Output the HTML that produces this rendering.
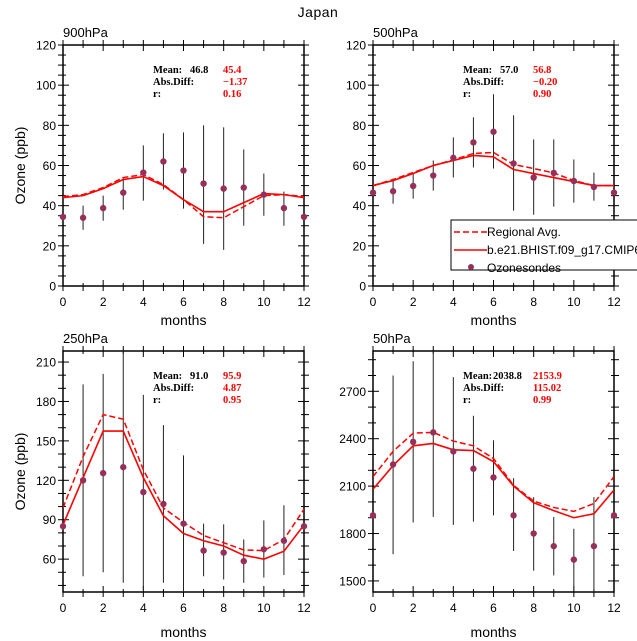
<!DOCTYPE html>
<html><head><meta charset="utf-8"><style>
body{margin:0;background:#fff}
svg{display:block;font-family:"Liberation Sans",sans-serif}
</style></head><body>
<svg id="fig" width="637" height="641" viewBox="0 0 637 641" xmlns="http://www.w3.org/2000/svg">
<text x="318" y="17" font-size="14" text-anchor="middle" letter-spacing="0.5">Japan</text>
</svg>
<script>
const months=[0,1,2,3,4,5,6,7,8,9,10,11,12];
// 900hPa
const obs900=[34.4,34,38.8,46.5,56.5,62,57.5,51,48.5,49,45.5,38.8,34.4];
const lo900=[null,28,32.5,38,42.5,48,38.5,21,18,30,35,30,null];
const hi900=[null,40,45,54,70,76,76.5,80,79,68,56,47,null];
const mod900=[44,45,48.5,53,54.5,50,43,37,37,41.5,46,45.5,44];
const reg900=[44.5,45.5,49,54,55.5,50.5,43,34.5,34,39.5,45,45.5,44.5];
// 500hPa
const obs500=[46.5,47.2,49.8,55,63.8,71.5,76.8,61,54,56.3,52.3,49.3,46.5];
const lo500=[null,41,43.5,47.5,54,59,58.5,37.5,35.5,39.5,41.5,42.5,null];
const hi500=[null,53.5,56,62.5,74,84,95.5,85,73,73,63,56.5,null];
const mod500=[50,52.5,56,60,62.5,65,64.3,58,56,54,52,50,50];
const reg500=[50,53,56.5,60,62.8,66,66.5,60.5,58.5,56.3,52.5,50,50];
// 250hPa
const obs250=[85,120,125.5,130,111,102,87,66.5,65,58.5,67.5,74,85];
const lo250=[null,47,50,42,37,42,35,47,44.5,42,46,48,null];
const hi250=[null,193,201,230,185,162,139,87,86.5,75,89.5,101,null];
const mod250=[86,122,157.5,157.5,122,93,79.5,74,70,63,60,66,86];
const reg250=[99,138,170,166.5,128,99,88,78,72.5,67,66.5,75,98];
// 50hPa
const obs50=[1915,2237,2380,2440,2320,2210,2155,1915,1800,1720,1635,1720,1915];
const lo50=[null,1670,1870,1905,1855,1875,1915,1690,1565,1535,1440,1400,null];
const hi50=[null,2800,2890,2990,2790,2545,2390,2150,2030,1905,1830,2030,null];
const mod50=[2080,2230,2355,2370,2330,2325,2255,2100,1995,1945,1900,1925,2075];
const reg50=[2160,2320,2435,2440,2385,2355,2275,2105,2005,1965,1940,1990,2160];

const xTicks=[0,2,4,6,8,10,12];
const NS="http://www.w3.org/2000/svg";
const svg=document.getElementById('fig');
function el(tag,attrs,parent){const e=document.createElementNS(NS,tag);for(const k in attrs)e.setAttribute(k,attrs[k]);(parent||svg).appendChild(e);return e;}

const panels=[
 {id:'900hpa',label:'900hPa',x0:63,x1:304,yTop:45,yBot:286,vTop:120,vBot:0,ticks:[0,20,40,60,80,100,120],minor:5,obs:obs900,lo:lo900,hi:hi900,mod:mod900,reg:reg900,stats:['46.8','45.4','\u22121.37','0.16'],ylab:true,xlabY:325},
 {id:'500hpa',label:'500hPa',x0:373,x1:614,yTop:45,yBot:286,vTop:120,vBot:0,ticks:[0,20,40,60,80,100,120],minor:5,obs:obs500,lo:lo500,hi:hi500,mod:mod500,reg:reg500,stats:['57.0','56.8','\u22120.20','0.90'],ylab:false,xlabY:325},
 {id:'250hpa',label:'250hPa',x0:63,x1:304,yTop:351,yBot:592,vTop:218.4,vBot:35,ticks:[60,90,120,150,180,210],minor:10,obs:obs250,lo:lo250,hi:hi250,mod:mod250,reg:reg250,stats:['91.0','95.9','4.87','0.95'],ylab:true,xlabY:637},
 {id:'50hpa',label:'50hPa',x0:373,x1:614,yTop:351,yBot:592,vTop:2955,vBot:1430,ticks:[1500,1800,2100,2400,2700],minor:100,obs:obs50,lo:lo50,hi:hi50,mod:mod50,reg:reg50,stats:['2038.8','2153.9','115.02','0.99'],ylab:false,xlabY:637}
];

panels.forEach(p=>{
 const g=el('g',{});
 
 
 const clipId='clip-'+p.id;
 const cp=el('clipPath',{id:clipId},g);
 el('rect',{x:p.x0,y:p.yTop,width:p.x1-p.x0,height:p.yBot-p.yTop},cp);
 const X=v=>p.x0+(v-0)/12*(p.x1-p.x0);
 const Y=v=>p.yBot-(v-p.vBot)/(p.vTop-p.vBot)*(p.yBot-p.yTop);
 const fr=el('rect',{x:p.x0,y:p.yTop,width:p.x1-p.x0,height:p.yBot-p.yTop,fill:'none',stroke:'#000','stroke-width':1.5},g);
 
 
 for(let m=0;m<=12;m++){
  const x=X(m),L=(m%2==0)?6:3;
  el('line',{x1:x,x2:x,y1:p.yBot,y2:p.yBot-L,stroke:'#000'},g);
  el('line',{x1:x,x2:x,y1:p.yTop,y2:p.yTop+L,stroke:'#000'},g);
  el('line',{x1:x,x2:x,y1:p.yBot,y2:p.yBot+5,stroke:'#000'},g);
  el('line',{x1:x,x2:x,y1:p.yTop,y2:p.yTop-5,stroke:'#000'},g);
 }
 xTicks.forEach(t=>{
  const tx=el('text',{x:X(t),y:p.yBot+20,'font-size':12,'text-anchor':'middle'},g);
  tx.textContent=t;
  
  
 });
 const start=Math.ceil(p.vBot/p.minor)*p.minor;
 for(let v=start;v<=p.vTop;v+=p.minor){
  const y=Y(v),maj=p.ticks.includes(v);
  const L=maj?6:3;
  el('line',{x1:p.x0,x2:p.x0+L,y1:y,y2:y,stroke:'#000'},g);
  el('line',{x1:p.x1,x2:p.x1-L,y1:y,y2:y,stroke:'#000'},g);
  el('line',{x1:p.x0,x2:p.x0-5,y1:y,y2:y,stroke:'#000'},g);
  el('line',{x1:p.x1,x2:p.x1+5,y1:y,y2:y,stroke:'#000'},g);
 }
 p.ticks.forEach(t=>{
  const tx=el('text',{x:p.x0-7,y:Y(t)+4.5,'font-size':12,'text-anchor':'end'},g);
  tx.textContent=t;
  
  
 });
 const pl=el('text',{x:p.x0,y:p.yTop-8,'font-size':13},g);
 pl.textContent=p.label;
 
 
 const xl=el('text',{x:(p.x0+p.x1)/2,y:p.xlabY,'font-size':14,'text-anchor':'middle'},g);
 xl.textContent='months';
 
 
 if(p.ylab){
  const cy=(p.yTop+p.yBot)/2;
  const yl=el('text',{x:25,y:cy,'font-size':14,'text-anchor':'middle',transform:`rotate(-90 25 ${cy})`},g);
  yl.textContent='Ozone (ppb)';
  
  
 }
 const cg=el('g',{'clip-path':`url(#${clipId})`},g);
 months.forEach((m,i)=>{
  if(p.lo[i]==null)return;
  const b=el('line',{x1:X(m),x2:X(m),y1:Y(p.lo[i]),y2:Y(p.hi[i]),stroke:'#222','stroke-width':1},cg);
  
  
 });
 const pts=a=>months.map((m,i)=>X(m)+','+Y(a[i])).join(' ');
 const reg=el('polyline',{points:pts(p.reg),fill:'none',stroke:'#f00','stroke-width':1.5,'stroke-dasharray':'6,3'},cg);
 
 
 const mod=el('polyline',{points:pts(p.mod),fill:'none',stroke:'#f00','stroke-width':1.6},cg);
 
 
 months.forEach((m,i)=>{
  const c=el('circle',{cx:X(m),cy:Y(p.obs[i]),r:3.2,fill:'#96305a'},g);
  
  
 });
 const sx=p.x0+90,sy=p.yTop+28;
 const st=el('g',{'font-family':'"Liberation Serif",serif','font-weight':'bold','font-size':10.5},g);
 
 
 const rows=[['Mean:',p.stats[0],p.stats[1]],['Abs.Diff:','',p.stats[2]],['r:','',p.stats[3]]];
 rows.forEach((r,k)=>{
  const y=sy+k*12;
  const a=el('text',{x:sx,y:y},st);a.textContent=r[0];
  if(r[1]){const b=el('text',{x:sx+(p.stats[0].length>4?30:37),y:y},st);b.textContent=r[1];}
  const c=el('text',{x:sx+70,y:y,fill:'#f00'},st);c.textContent=r[2];
 });
});

const lg=el('g',{});


el('rect',{x:451,y:220,width:200,height:50,fill:'#fff',stroke:'#000','stroke-width':1},lg);
el('line',{x1:454,x2:487,y1:232,y2:232,stroke:'#f00','stroke-width':1.5,'stroke-dasharray':'6,3'},lg);
el('line',{x1:454,x2:487,y1:250,y2:250,stroke:'#f00','stroke-width':1.5},lg);
el('circle',{cx:471,cy:267,r:3,fill:'#96305a'},lg);
const t1=el('text',{x:487,y:236,'font-size':12},lg);t1.textContent='Regional Avg.';


const t2=el('text',{x:487,y:254,'font-size':12},lg);t2.textContent='b.e21.BHIST.f09_g17.CMIP6';


const t3=el('text',{x:487,y:272,'font-size':12},lg);t3.textContent='Ozonesondes';


</script>
</body></html>
